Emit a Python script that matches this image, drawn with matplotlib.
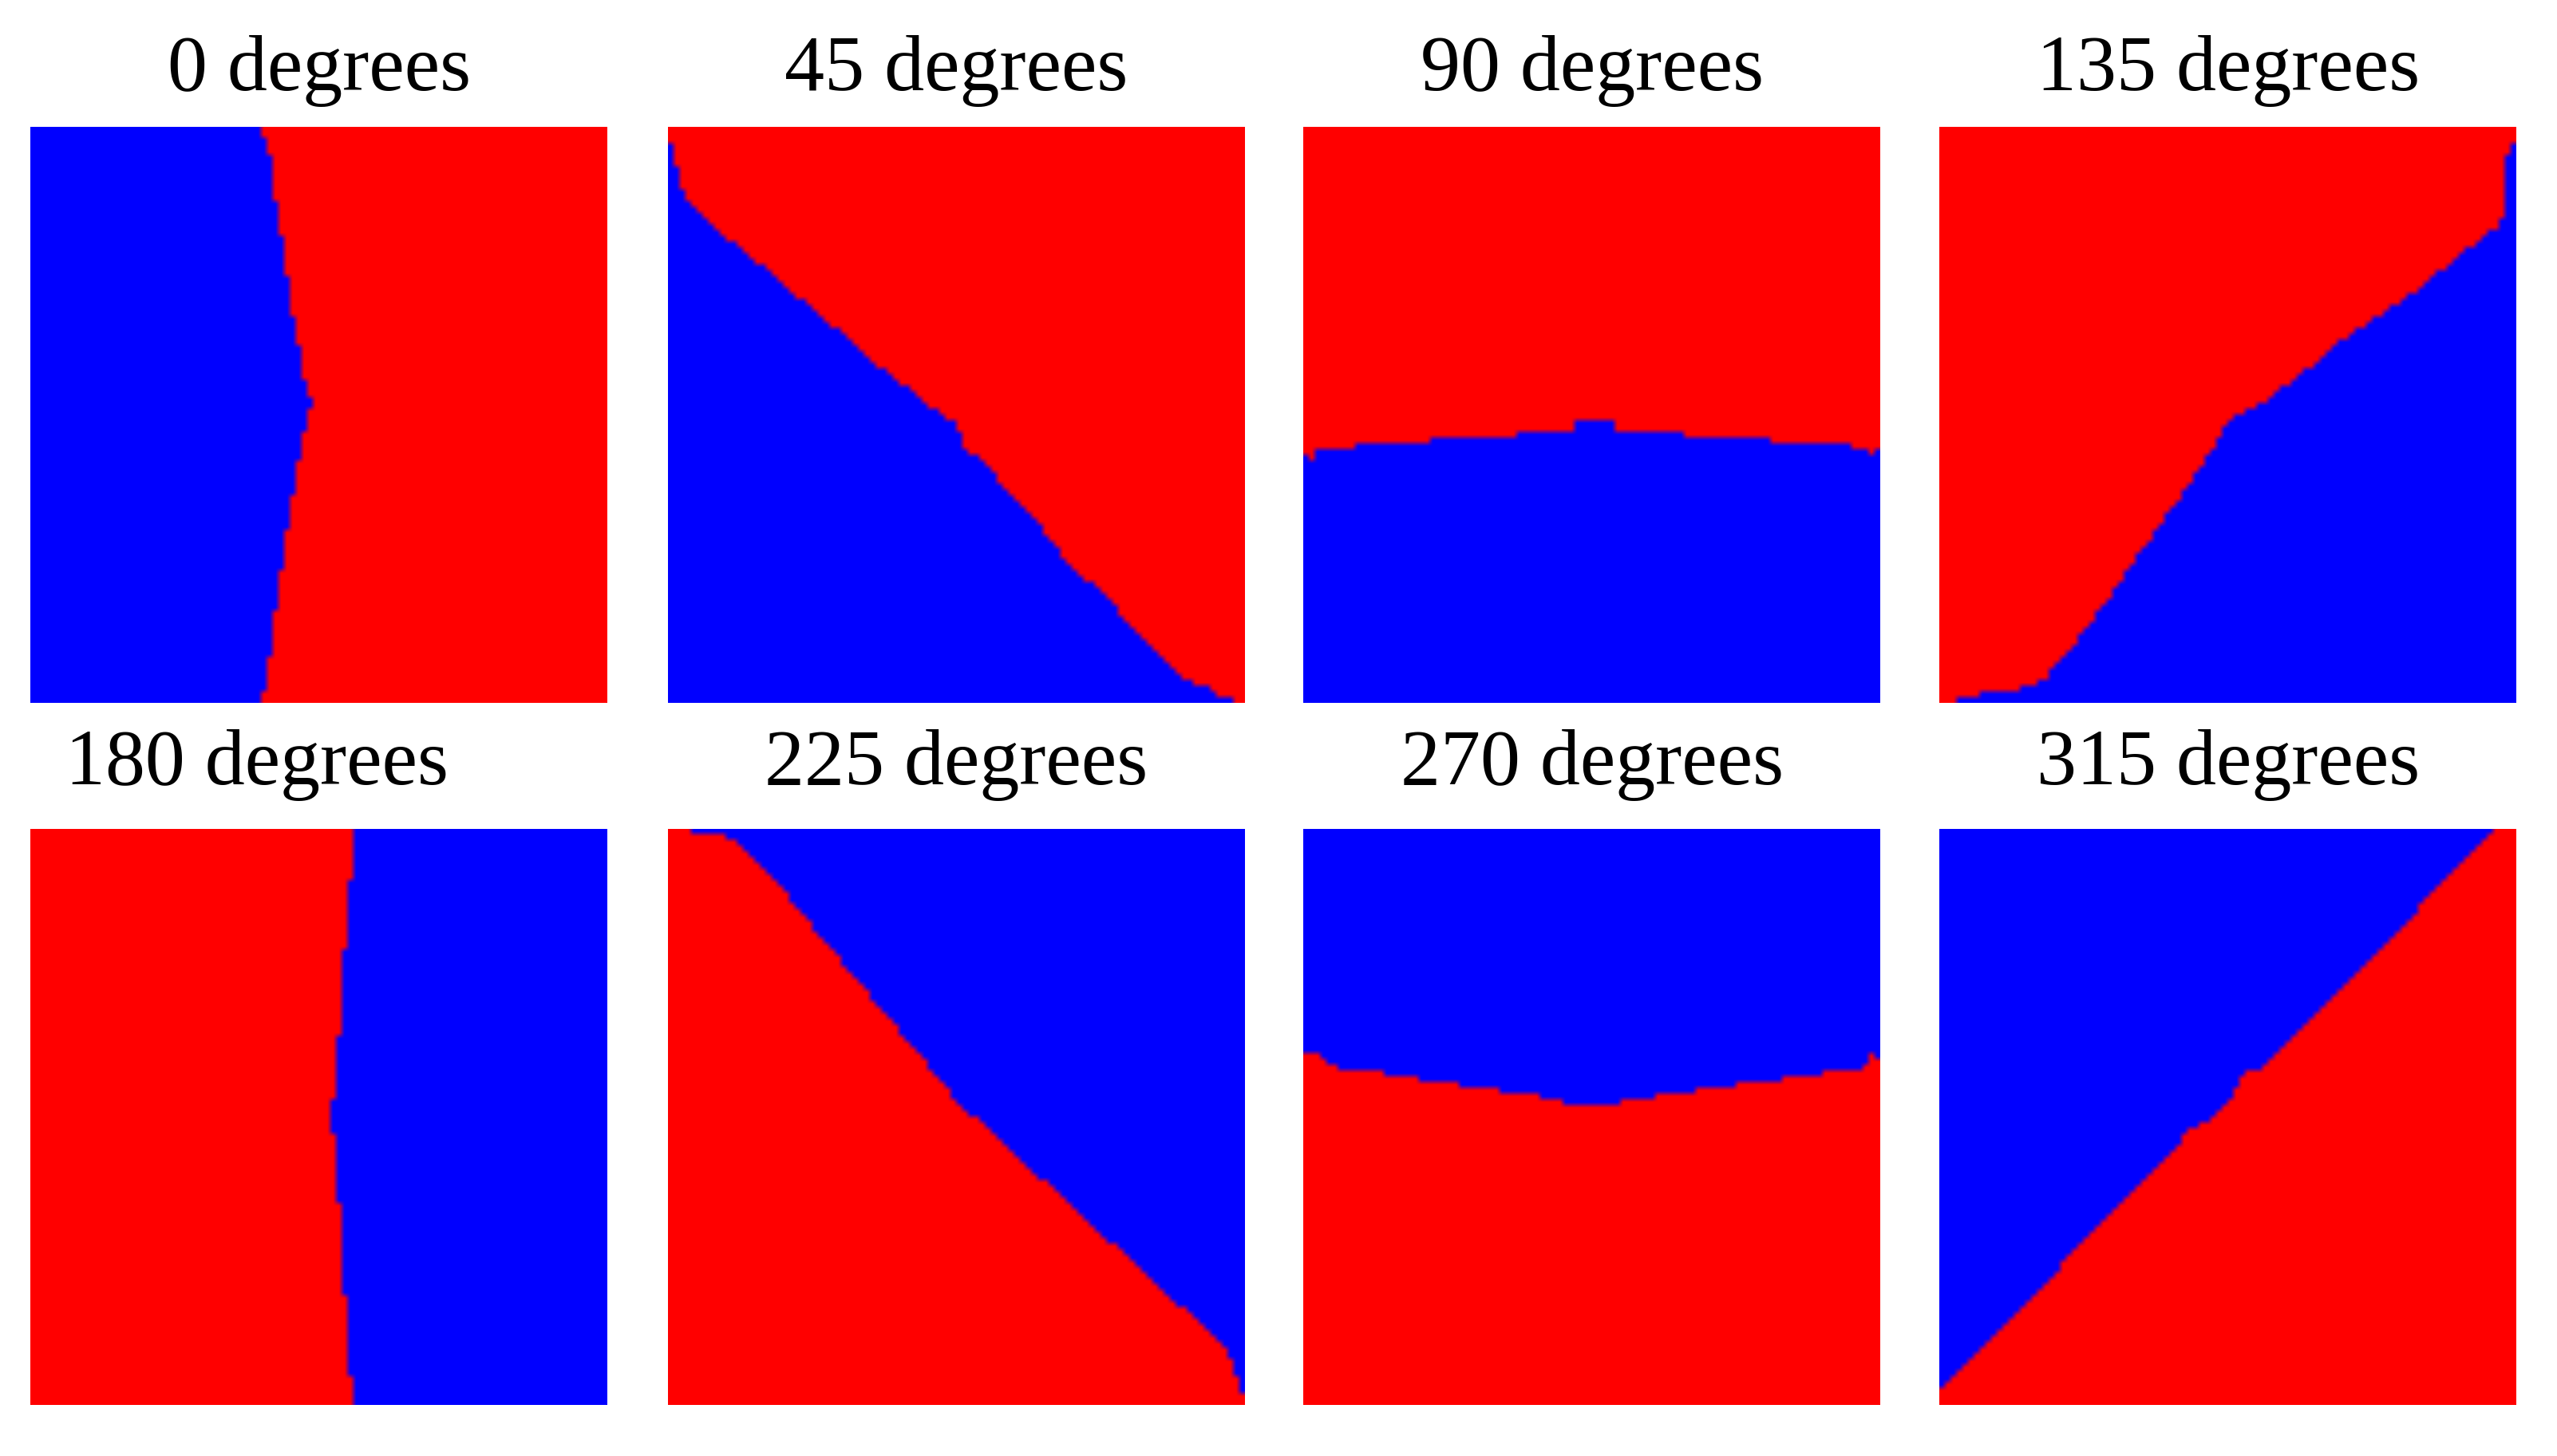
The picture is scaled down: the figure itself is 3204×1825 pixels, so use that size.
import numpy as np
import matplotlib
matplotlib.use("Agg")
import matplotlib.pyplot as plt
from matplotlib.path import Path

# ---------------- data ----------------
titles = ["0 degrees", "45 degrees", "90 degrees", "135 degrees",
          "180 degrees", "225 degrees", "270 degrees", "315 degrees"]

# Class boundary of each panel, in percent of the panel (x from left, y from top).
# The "close" lists give the panel corners that close the blue region.
b0_x = [39.3, 40.6, 41.6, 42.4, 43.5, 44.5, 45.5, 46.7, 47.7, 48.8, 47.7, 46.8,
        45.7, 44.5, 43.5, 42.4, 41.6, 40.9, 39.6]
b0_y = [0, 2.1, 5.7, 12.5, 18.7, 25.6, 32.8, 39.6, 44.8, 47.8, 52.3, 56.3,
        62.8, 69.6, 76.5, 84.3, 91.5, 96.7, 100]
b0_close_x = [0, 0]
b0_close_y = [100, 0]

b45_x = [0, 0.5, 0.5, 1.4, 1.6, 2.4, 2.6, 9.6, 10.9, 15.8, 17.1, 21.7, 23.0, 27.9,
         28.9, 33.7, 34.7, 39.6, 40.9, 44.5, 45.8, 47.8, 49.4, 49.7, 51.4, 51.4,
         56.9, 57.6, 68.0, 68.4, 78.1, 78.5, 89.6, 90.9, 92.2, 93.5, 94.8, 96.1,
         98.7, 100]
b45_y = [2.4, 2.7, 4.7, 5.0, 9.3, 9.9, 12.2, 19.4, 19.7, 24.3, 24.6, 29.5, 29.8, 34.4,
         34.6, 39.6, 39.8, 44.5, 44.8, 48.4, 48.8, 50.4, 50.7, 52.3, 54.3, 55.6,
         60.5, 62.1, 73.2, 74.5, 84.0, 85.3, 96.1, 96.4, 97.4, 97.5, 98.4, 99.0,
         99.7, 100]
b45_close_x = [0]
b45_close_y = [100]

b90_x = [0, 1.5, 2.5, 8.6, 8.6, 21.7, 21.7, 36.6, 36.6, 46.7, 46.7, 53.5, 53.5,
         65.5, 65.5, 81.4, 81.4, 95.3, 95.3, 98.5, 100]
b90_y = [56.5, 57.5, 56.0, 55.9, 54.6, 54.6, 53.5, 53.5, 52.5, 52.5, 51.4, 51.4, 52.5,
         52.5, 53.5, 53.5, 54.6, 54.6, 55.6, 56.5, 56.0]
b90_close_x = [100, 0]
b90_close_y = [100, 100]

b135_x = [2.4, 4.7, 13.2, 18.4, 22.0, 30.8, 36.7, 45.8, 50.4, 53.7, 59.9, 70.6,
          83.0, 93.5, 96.4, 98.0, 98.4, 100]
b135_y = [100, 98.7, 98.0, 95.8, 91.5, 79.8, 71.3, 58.6, 50.7, 49.4, 45.2, 36.6,
          28.3, 19.7, 17.8, 14.5, 5.0, 2.1]
b135_close_x = [100]
b135_close_y = [100]

b180_x = [55.6, 56.3, 55.6, 55.6, 54.6, 54.6, 53.7, 53.7, 52.7, 52.7, 51.7, 51.7,
          52.7, 52.7, 53.7, 53.7, 54.6, 54.6, 55.6, 55.6, 56.3, 56.3]
b180_y = [0, 0.8, 1.4, 8.6, 8.6, 21.3, 21.3, 36.4, 36.4, 46.5, 46.5, 53.0,
          53.0, 65.4, 65.4, 81.4, 81.4, 95.1, 95.1, 98.0, 98.0, 100]
b180_close_x = [100, 100]
b180_close_y = [100, 0]

b225_x = [2.4, 4.7, 9.3, 12.2, 19.4, 24.3, 29.5, 34.4, 39.3, 44.5, 48.4, 50.7,
          54.0, 60.5, 72.6, 83.7, 96.1, 97.4, 99.0, 100]
b225_y = [0, 0.7, 1.4, 2.4, 9.9, 16.1, 22.3, 28.2, 34.1, 40.3, 45.2, 48.8,
          50.4, 56.9, 68.0, 78.1, 89.6, 92.2, 96.4, 99.7]
b225_close_x = [100]
b225_close_y = [0]

b270_x = [0, 1.1, 3.1, 5.7, 12.5, 19.6, 25.6, 32.6, 39.6, 44.5, 47.8, 52.3, 56.3,
          62.5, 69.6, 76.5, 84.3, 91.5, 97.1, 98.7, 100]
b270_y = [39.6, 38.3, 40.0, 41.4, 42.3, 43.4, 44.3, 45.3, 46.3, 47.3, 48.3, 48.3, 47.3,
          46.3, 45.3, 44.3, 43.4, 42.3, 41.5, 38.9, 40.0]
b270_close_x = [100, 0]
b270_close_y = [0, 0]

b315_x = [0, 0.5, 42.2, 42.6, 43.9, 44.8, 48.1, 49.4, 49.4, 52.4, 52.4, 53.7,
          55.0, 96.7, 98.7]
b315_y = [98.7, 96.7, 54.6, 53.0, 52.0, 52.0, 49.1, 49.1, 47.8, 44.5, 43.2, 42.2,
          42.2, 0.2, 0]
b315_close_x = [0]
b315_close_y = [0]

boundaries = [
    (b0_x, b0_y, b0_close_x, b0_close_y),
    (b45_x, b45_y, b45_close_x, b45_close_y),
    (b90_x, b90_y, b90_close_x, b90_close_y),
    (b135_x, b135_y, b135_close_x, b135_close_y),
    (b180_x, b180_y, b180_close_x, b180_close_y),
    (b225_x, b225_y, b225_close_x, b225_close_y),
    (b270_x, b270_y, b270_close_x, b270_close_y),
    (b315_x, b315_y, b315_close_x, b315_close_y),
]

GRID = 100
RED = np.array([1.0, 0.0, 0.0])
BLUE = np.array([0.0, 0.0, 1.0])

# ---------------- layout ----------------
W, H = 3205, 1825
fig = plt.figure(figsize=(W / 100, H / 100), dpi=100)
fig.patch.set_facecolor("white")

col_left = [38.5, 836.5, 1633.5, 2430.5]
row_top = [158.5, 1038.5]
size = 723.0
title_x = [0.5, 0.5, 0.5, 0.5, 0.392, 0.5, 0.5, 0.5]
title_y = [1 + 45 / size, 1 + 55 / size]

centers = np.arange(GRID) + 0.5
gx, gy = np.meshgrid(centers / GRID * 100, centers / GRID * 100)
pts = np.column_stack([gx.ravel(), gy.ravel()])

for i, (bx, by, cx, cy) in enumerate(boundaries):
    r, c = divmod(i, 4)
    left = col_left[c] / W
    bottom = 1 - (row_top[r] + size) / H
    ax = fig.add_axes([left, bottom, size / W, size / H])
    verts = np.column_stack([list(bx) + list(cx), list(by) + list(cy)])
    mask = Path(verts, closed=False).contains_points(pts).reshape(GRID, GRID)
    img = np.where(mask[..., None], BLUE, RED)
    ax.imshow(img, extent=(0, 100, 100, 0), interpolation="bilinear", aspect="auto")
    ax.set_xlim(0, 100)
    ax.set_ylim(100, 0)
    ax.axis("off")
    ax.text(title_x[i], title_y[r], titles[i], transform=ax.transAxes,
            ha="center", va="baseline", fontsize=72,
            family=["Liberation Serif", "DejaVu Serif"], color="black")

fig.savefig("out.png", dpi=100, facecolor="white")
